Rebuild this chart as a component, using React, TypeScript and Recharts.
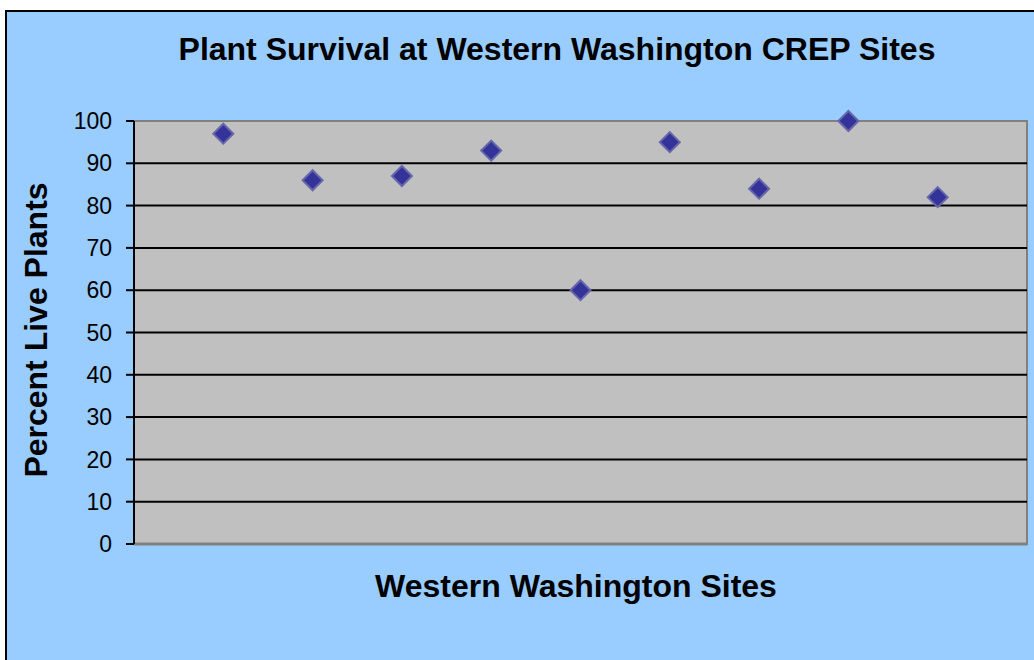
import React from "react";
import {
  ScatterChart,
  Scatter,
  XAxis,
  YAxis,
  ReferenceArea,
  ReferenceLine,
} from "recharts";

const siteIndex = [1, 2, 3, 4, 5, 6, 7, 8, 9];
const survival = [97, 86, 87, 93, 60, 95, 84, 100, 82];
const yTicks = [0, 10, 20, 30, 40, 50, 60, 70, 80, 90, 100];
const gridValues = [10, 20, 30, 40, 50, 60, 70, 80, 90];

const titleText = "Plant Survival at Western Washington CREP Sites";
const xLabelText = "Western Washington Sites";
const yLabelText = "Percent Live Plants";

const data = siteIndex.map((s, i) => ({ site: s, pct: survival[i] }));

const FONT = '"Liberation Sans", Arial, sans-serif';

const Diamond = (props: any) => {
  const { cx, cy } = props;
  if (cx == null || cy == null) return null;
  const r = 10;
  const pts = `${cx},${cy - r} ${cx + r},${cy} ${cx},${cy + r} ${cx - r},${cy}`;
  return (
    <polygon
      points={pts}
      fill="#333399"
      stroke="#6666AA"
      strokeWidth={2}
      strokeLinejoin="miter"
    />
  );
};

export default function App() {
  return (
    <div
      style={{
        position: "fixed",
        left: 0,
        top: 0,
        width: 1034,
        height: 660,
        overflow: "hidden",
        background: "#ffffff",
      }}
    >
      <div
        style={{
          position: "absolute",
          left: 5,
          top: 10,
          width: 1060,
          height: 700,
          border: "2px solid #000",
          background: "#99CCFF",
        }}
      />
      <div style={{ position: "absolute", left: 0, top: 0 }}>
        <ScatterChart
          width={1034}
          height={660}
          margin={{ top: 121, right: 7, bottom: 116, left: 0 }}
        >
          <XAxis
            type="number"
            dataKey="site"
            domain={[0, 10]}
            hide
            allowDataOverflow
          />
          <YAxis
            type="number"
            dataKey="pct"
            domain={[0, 100]}
            ticks={yTicks}
            interval={0}
            width={134}
            tickSize={8}
            tickMargin={14}
            axisLine={{ stroke: "#000", strokeWidth: 2 }}
            tickLine={{ stroke: "#000", strokeWidth: 2 }}
            tick={{ fontSize: 23, fill: "#000", fontFamily: FONT }}
          />
          <ReferenceArea
            x1={0}
            x2={10}
            y1={0}
            y2={100}
            fill="#C0C0C0"
            fillOpacity={1}
            stroke="#808080"
            strokeWidth={2}
            ifOverflow="visible"
          />
          {gridValues.map((v) => (
            <ReferenceLine
              key={v}
              y={v}
              stroke="#000"
              strokeWidth={2}
            />
          ))}
          <ReferenceLine y={0} stroke="#808080" strokeWidth={3} />
          <ReferenceLine x={0} stroke="#000" strokeWidth={2} />
          <Scatter
            data={data}
            shape={<Diamond />}
            isAnimationActive={false}
          />
        </ScatterChart>
      </div>
      <svg
        width={1034}
        height={660}
        style={{ position: "absolute", left: 0, top: 0, pointerEvents: "none" }}
      >
        <text
          x={557}
          y={60}
          textAnchor="middle"
          fontFamily={FONT}
          fontWeight="bold"
          fontSize={32}
          fill="#000"
        >
          {titleText}
        </text>
        <text
          x={576}
          y={597}
          textAnchor="middle"
          fontFamily={FONT}
          fontWeight="bold"
          fontSize={32}
          fill="#000"
        >
          {xLabelText}
        </text>
        <text
          x={0}
          y={0}
          transform="translate(47,330) rotate(-90)"
          textAnchor="middle"
          fontFamily={FONT}
          fontWeight="bold"
          fontSize={32}
          fill="#000"
        >
          {yLabelText}
        </text>
      </svg>
    </div>
  );
}
